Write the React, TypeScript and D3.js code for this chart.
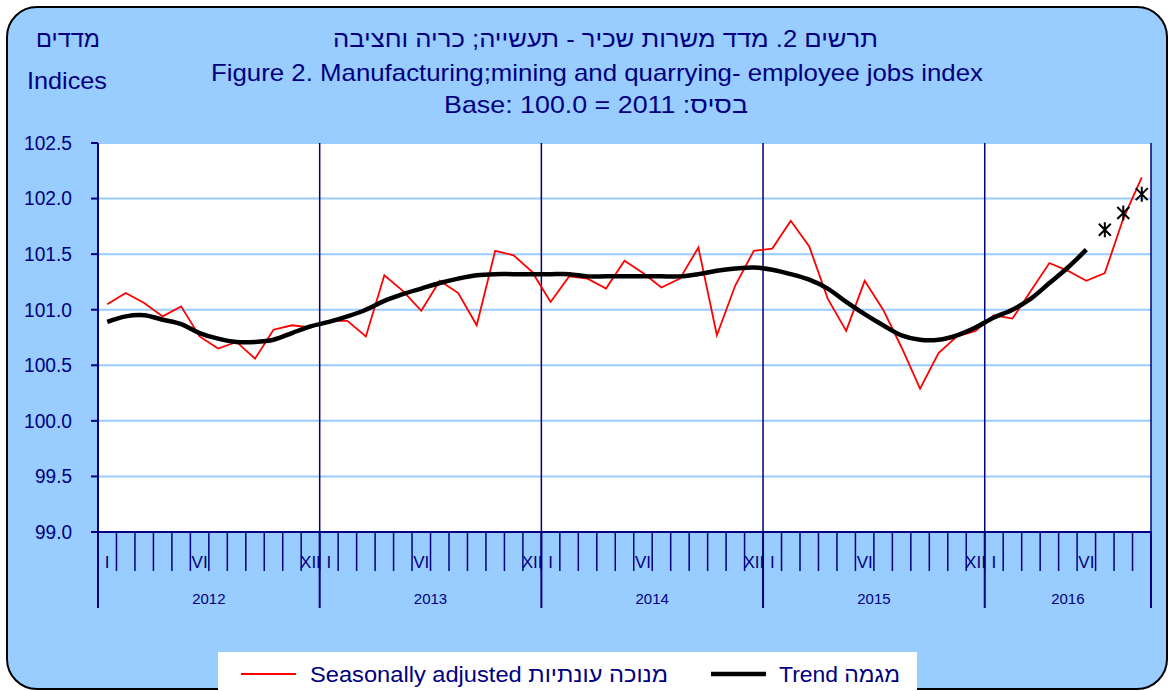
import React from "react";
import * as d3 from "d3";

const years = ["2012", "2013", "2014", "2015", "2016"];
const monthsPerYear = [12, 12, 12, 12, 9];
const monthLabels = ["I", "", "", "", "", "VI", "", "", "", "", "", "XII"];

const seasonallyAdjusted = [
  101.05, 101.15, 101.06, 100.94, 101.03, 100.76, 100.65, 100.71, 100.56, 100.82, 100.86, 100.84,
  100.90, 100.90, 100.76, 101.31, 101.17, 100.99, 101.26, 101.15, 100.86, 101.53, 101.49, 101.34,
  101.07, 101.30, 101.28, 101.19, 101.44, 101.33, 101.20, 101.28, 101.56, 100.77, 101.22, 101.53,
  101.55, 101.80, 101.57, 101.10, 100.81, 101.26, 101.00, 100.66, 100.29, 100.61, 100.76, 100.81,
  100.95, 100.92, 101.17, 101.42, 101.35, 101.26, 101.33, 101.82, 102.19,
];

const trend = [
  100.89, 100.94, 100.95, 100.91, 100.87, 100.79, 100.74, 100.71, 100.71, 100.73, 100.79, 100.85,
  100.89, 100.94, 101.00, 101.08, 101.14, 101.19, 101.24, 101.28, 101.31, 101.32, 101.32, 101.32,
  101.32, 101.32, 101.30, 101.30, 101.30, 101.30, 101.30, 101.30, 101.32, 101.35, 101.37, 101.38,
  101.36, 101.32, 101.27, 101.19, 101.07, 100.96, 100.86, 100.77, 100.73, 100.73, 100.77, 100.84,
  100.93, 101.00, 101.10, 101.24, 101.38, 101.54,
];

// trend forecast (asterisk markers) for the last three months
const trendForecast = [101.72, 101.87, 102.04];

const yTicks = [99.0, 99.5, 100.0, 100.5, 101.0, 101.5, 102.0, 102.5];

const NAVY = "#000080";
const BG = "#99CCFF";
const FONT = "'Liberation Sans', Arial, sans-serif";

export default function App() {
  const W = 1170;
  const H = 691;
  const left = 98;
  const right = 1151;
  const top = 143;
  const bottom = 532;

  const nMonths = d3.sum(monthsPerYear);
  const idx = d3.range(nMonths);

  const x = d3.scaleBand<number>().domain(idx).range([left, right]).paddingInner(0).paddingOuter(0);
  const cx = (i: number) => (x(i) as number) + x.bandwidth() / 2;
  const y = d3.scaleLinear().domain([99, 102.5]).range([bottom, top]);

  const redLine = d3
    .line<number>()
    .x((_, i) => cx(i))
    .y((d) => y(d))(seasonallyAdjusted) as string;

  const trendLine = d3
    .line<number>()
    .x((_, i) => cx(i))
    .y((d) => y(d))
    .curve(d3.curveCatmullRom.alpha(0.5))(trend) as string;

  const yearStarts: number[] = [];
  let acc = 0;
  monthsPerYear.forEach((m) => {
    yearStarts.push(acc);
    acc += m;
  });

  const monthItems: { i: number; label: string }[] = [];
  yearStarts.forEach((s, yi) => {
    for (let m = 0; m < monthsPerYear[yi]; m++) monthItems.push({ i: s + m, label: monthLabels[m] });
  });

  const star = "M-6,-6L6,6M-6,6L6,-6M0,-7.5L0,7.5";

  return (
    <svg
      width={W}
      height={H}
      style={{ position: "absolute", left: 0, top: 0, fontFamily: FONT }}
    >
      <rect x={0} y={0} width={W} height={H} fill="#ffffff" />
      <rect x={7} y={7} width={1160} height={682} rx={30} ry={30} fill={BG} stroke="#000" strokeWidth={2} />

      {/* titles */}
      <text x={605.5} y={46.5} textAnchor="middle" fill={NAVY} fontSize={24} direction="rtl"
        textLength={545} lengthAdjust="spacingAndGlyphs">
        תרשים 2. מדד משרות שכיר  - תעשייה; כריה וחציבה
      </text>
      <text x={597} y={80.5} textAnchor="middle" fill={NAVY} fontSize={24}
        textLength={772} lengthAdjust="spacingAndGlyphs">
        Figure 2. Manufacturing;mining and quarrying- employee jobs index
      </text>
      <text x={596} y={112.5} textAnchor="middle" fill={NAVY} fontSize={24}
        textLength={304} lengthAdjust="spacingAndGlyphs">
        Base: 100.0 = 2011 :בסיס
      </text>
      <text x={68} y={46.5} textAnchor="middle" fill={NAVY} fontSize={24}
        textLength={64} lengthAdjust="spacingAndGlyphs">
        מדדים
      </text>
      <text x={67} y={88.5} textAnchor="middle" fill={NAVY} fontSize={24}
        textLength={80} lengthAdjust="spacingAndGlyphs">
        Indices
      </text>

      {/* plot area */}
      <rect x={left} y={top} width={right - left} height={bottom - top} fill="#ffffff" />
      {yTicks.map((t) => (
        <line key={"g" + t} x1={left} x2={right} y1={y(t)} y2={y(t)} stroke={BG} strokeWidth={2} />
      ))}
      {yearStarts.slice(1).map((s) => (
        <line key={"yl" + s} x1={x(s) as number} x2={x(s) as number} y1={top} y2={bottom} stroke={NAVY} strokeWidth={1.5} />
      ))}

      {/* y axis */}
      <line x1={left} x2={left} y1={top} y2={bottom} stroke={NAVY} strokeWidth={2} />
      <line x1={right} x2={right} y1={top} y2={bottom} stroke={NAVY} strokeWidth={1.5} />
      {yTicks.map((t) => (
        <g key={"yt" + t}>
          <line x1={left - 7} x2={left} y1={y(t)} y2={y(t)} stroke={NAVY} strokeWidth={2} />
          <text x={72} y={y(t)} dy="0.35em" textAnchor="end" fill={NAVY} fontSize={19.5}
            textLength={t >= 100 ? 48 : 37} lengthAdjust="spacingAndGlyphs">
            {t.toFixed(1)}
          </text>
        </g>
      ))}

      {/* x axis */}
      <line x1={left} x2={right} y1={bottom} y2={bottom} stroke={NAVY} strokeWidth={2} />
      {idx.slice(1).map((i) => (
        <line key={"mt" + i} x1={x(i) as number} x2={x(i) as number} y1={bottom} y2={571} stroke={NAVY} strokeWidth={1.5} />
      ))}
      {[...yearStarts, nMonths].map((s) => {
        const xx = s === nMonths ? right : (x(s) as number);
        return <line key={"yb" + s} x1={xx} x2={xx} y1={bottom} y2={608} stroke={NAVY} strokeWidth={2} />;
      })}
      {monthItems
        .filter((m) => m.label)
        .map((m) => (
          <text key={"ml" + m.i} x={cx(m.i)} y={562} dy="0.35em" textAnchor="middle" fill={NAVY} fontSize={17}>
            {m.label}
          </text>
        ))}
      {years.map((yr, yi) => {
        const s = yearStarts[yi];
        const e = s + monthsPerYear[yi];
        const x0 = x(s) as number;
        const x1 = e === nMonths ? right : (x(e) as number);
        return (
          <text key={yr} x={(x0 + x1) / 2} y={599} dy="0.35em" textAnchor="middle" fill={NAVY} fontSize={15}>
            {yr}
          </text>
        );
      })}

      {/* series */}
      <path d={redLine} fill="none" stroke="#FF0000" strokeWidth={1.8} strokeLinejoin="miter" />
      <path d={trendLine} fill="none" stroke="#000" strokeWidth={4.5} strokeLinecap="butt" />
      {trendForecast.map((v, k) => (
        <path
          key={"st" + k}
          d={star}
          transform={`translate(${cx(trend.length + k)},${y(v)})`}
          stroke="#000"
          strokeWidth={2}
          fill="none"
        />
      ))}

      {/* legend */}
      <rect x={218} y={652} width={699} height={45} fill="#ffffff" />
      <line x1={241} x2={296} y1={674} y2={674} stroke="#FF0000" strokeWidth={2} />
      <text x={310} y={674} dy="0.35em" fill={NAVY} fontSize={22}
        textLength={358} lengthAdjust="spacingAndGlyphs">
        Seasonally adjusted מנוכה עונתיות
      </text>
      <line x1={711} x2={766} y1={674} y2={674} stroke="#000" strokeWidth={4.5} />
      <text x={779} y={674} dy="0.35em" fill={NAVY} fontSize={22}
        textLength={121} lengthAdjust="spacingAndGlyphs">
        Trend מגמה
      </text>
    </svg>
  );
}
